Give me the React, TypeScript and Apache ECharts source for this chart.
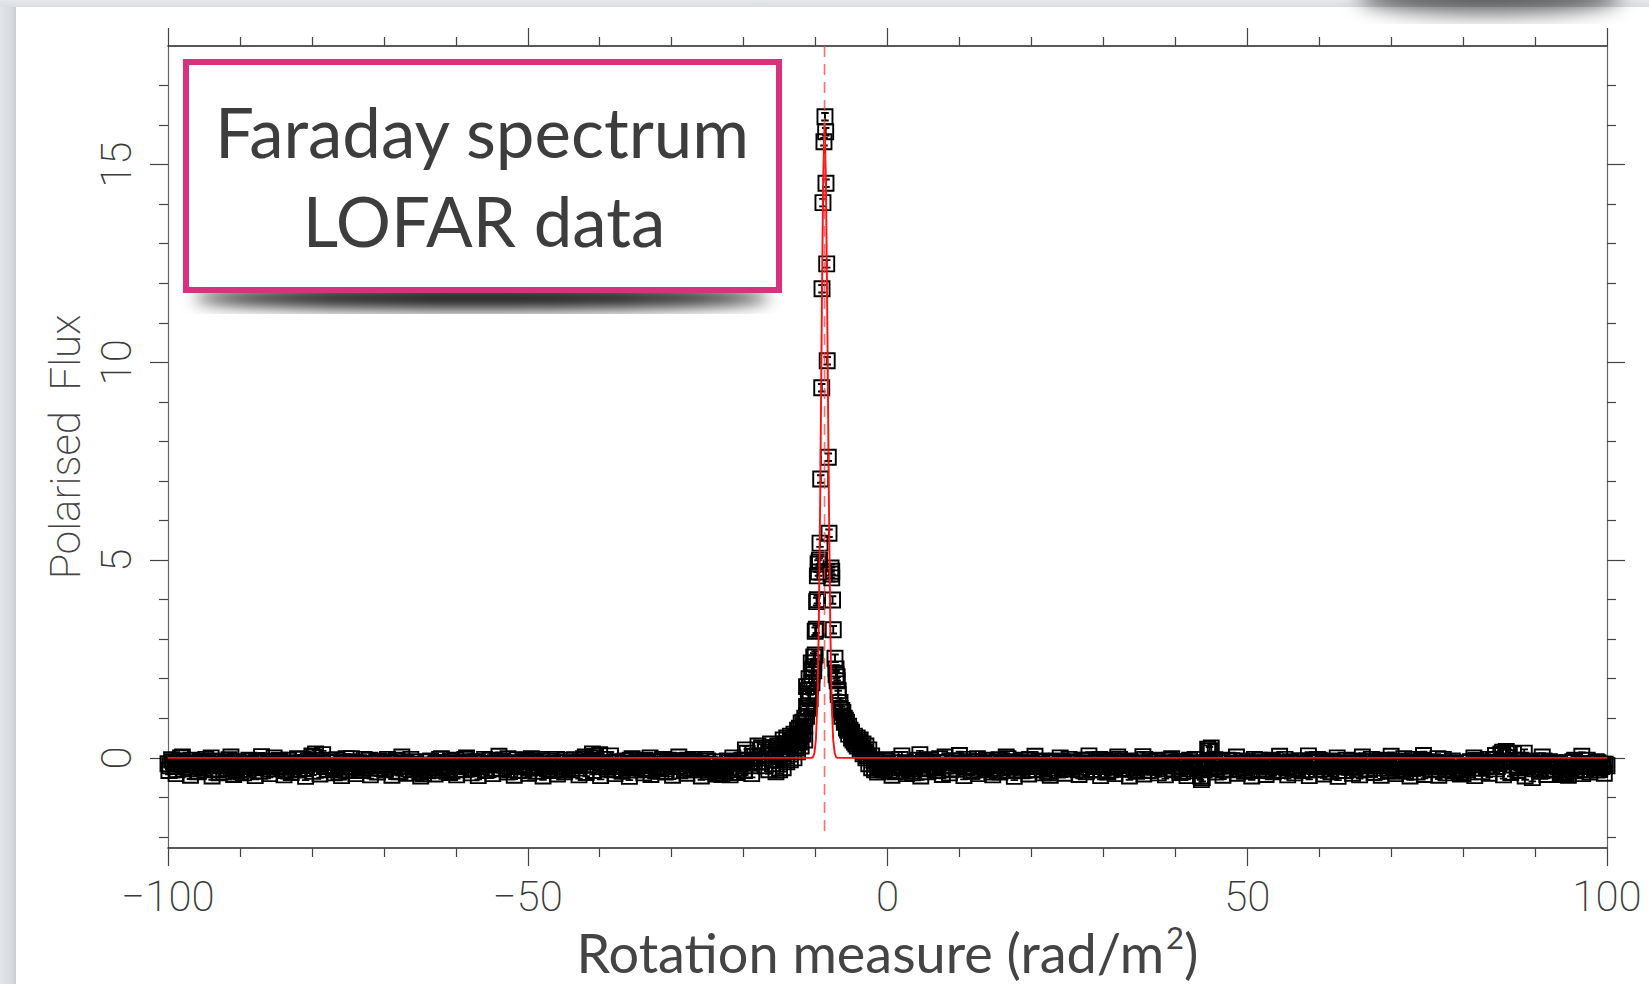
import React, { useEffect, useRef } from 'react';
import * as echarts from 'echarts';

const W = 1649;
const H = 984;

// Axis ticks
const xMin = -100;
const xMax = 100;
const xMajorInterval = 50;
const yMin = -2.28;
const yMax = 18;
const yMajorTicks = [0, 5, 10, 15];
const yMinorTicks = [-2, -1, 1, 2, 3, 4, 6, 7, 8, 9, 11, 12, 13, 14, 16, 17];

// Faraday spectrum samples: baseline parts on regular RM grids
const rmGridStep = 0.5;
const rmGridStepCoarse = 1.0;
const leftBaselineStart = -100;
const leftBaselineFlux = [
  -0.15, -0.05, -0.22, -0.1, 0.02, -0.18, -0.28, -0.12, -0.2, -0.08,
  -0.25, -0.12, 0.0, -0.15, -0.3, -0.1, -0.2, -0.05, -0.18, -0.32,
  -0.22, -0.38, -0.15, -0.08, -0.25, -0.12, 0.03, -0.18, -0.28, -0.1,
  -0.2, -0.06, -0.15, -0.3, -0.12, -0.22, -0.02, -0.16, -0.27, -0.08,
  0.05, 0.1, -0.12, 0.08, -0.2, -0.1, -0.25, -0.05, -0.18, -0.3,
  -0.14, -0.02, -0.22, -0.12, -0.32, -0.18, -0.06, -0.2, -0.1, -0.26,
  -0.16, -0.04, -0.24, -0.12, -0.2, 0.02, -0.15, -0.28, -0.1, -0.22,
  -0.35, -0.4, -0.18, -0.08, -0.25, -0.12, -0.02, -0.2, -0.3, -0.14,
  -0.06, -0.22, -0.12, 0.0, -0.18, -0.28, -0.1, -0.2, -0.04, -0.16,
  -0.26, -0.12, 0.04, -0.08, -0.2, -0.3, -0.14, -0.05, -0.22, -0.1,
  -0.18, -0.02, -0.12, -0.25, -0.08, -0.2, -0.32, -0.14, -0.04, -0.22,
  -0.12, -0.28, -0.16, -0.05, -0.2, -0.1, 0.02, -0.18, 0.1, -0.06,
  0.08, -0.14, -0.24, 0.05, -0.12, -0.2, -0.3, -0.08, -0.16, -0.02,
  -0.22, -0.1, -0.28, -0.14, 0.0, -0.2, -0.08, -0.34, -0.16, -0.06,
  -0.2, -0.12, 0.02, -0.15, -0.26, -0.1, -0.04, -0.22, -0.14, -0.3,
  -0.08, -0.18, -0.1, -0.38, -0.42, -0.22, -0.12, 0.0, -0.16, -0.26,
  -0.06, 0.12, -0.2, -0.1,
];
const leftBaselineStart2 = -99.75;
const leftBaselineFlux2 = [
  -0.2, -0.1, -0.3, 0.0, -0.14, -0.24, -0.06, -0.16, -0.34, -0.12,
  -0.04, -0.2, -0.28, -0.08, -0.18, -0.36, -0.14, 0.02, -0.24, -0.1,
  -0.3, -0.18, -0.06, -0.2, -0.12, -0.34, -0.08, -0.22, -0.16, 0.0,
  -0.1, -0.24, -0.32, -0.06, -0.18, -0.14, -0.28, -0.04, -0.2, -0.12,
  0.02, -0.16, -0.06, -0.22, -0.3, -0.12, -0.2, -0.36, -0.1, -0.02,
  -0.24, -0.1, -0.16, -0.3, -0.04, -0.2, -0.14, -0.26, -0.08, -0.18,
  -0.28, -0.1, -0.18, -0.06, -0.34, -0.14, -0.22, -0.04, -0.16, -0.3,
  -0.2, -0.3, -0.1, -0.24, -0.14, -0.04, -0.2, -0.34, -0.08, -0.18,
  -0.12, -0.3, -0.04, -0.16, -0.26, -0.1, -0.22, -0.14, -0.3, -0.06,
  -0.18, -0.08, -0.28, -0.14, -0.02, -0.22, -0.12, -0.32, -0.16, -0.06,
  -0.26, -0.1, -0.2, -0.04, -0.16, -0.28, -0.08, -0.22, -0.12, -0.3,
  -0.06, -0.2, -0.12, -0.26, -0.14, -0.02, -0.18, -0.1, 0.04, -0.22,
  -0.12, -0.04, -0.18, -0.3, -0.1, -0.22, -0.14, -0.26, -0.06, -0.2,
  -0.14, -0.26, -0.06, -0.18, -0.3, -0.1, -0.22, -0.04, -0.28, -0.12,
  -0.08, -0.22, -0.14, -0.3, -0.06, -0.18, -0.1, -0.26, -0.2, -0.04,
  -0.16, -0.28, -0.34, -0.4, -0.2, -0.08, -0.24, -0.12, -0.3, -0.06,
  0.2, -0.14, 0.04,
];
const leftBaselineStart3 = -99.875;
const leftBaselineFlux3 = [
  -0.32, -0.4, -0.28, -0.44, -0.35, -0.3, -0.46, -0.38, -0.27, -0.42,
  -0.36, -0.3, -0.45, -0.33, -0.4, -0.28, -0.43, -0.37, -0.31, -0.47,
  -0.34, -0.41, -0.29, -0.38, -0.45, -0.32, -0.4, -0.26, -0.43, -0.36,
  -0.3, -0.44, -0.35, -0.39, -0.28, -0.46, -0.33, -0.41, -0.3, -0.37,
  -0.43, -0.29, -0.38, -0.45, -0.32, -0.4, -0.27, -0.36, -0.44, -0.31,
  -0.39, -0.34, -0.46, -0.28, -0.41, -0.35, -0.3, -0.43, -0.37, -0.32,
  -0.45, -0.29, -0.4, -0.34, -0.47, -0.31, -0.38, -0.42, -0.27, -0.36,
  -0.44, -0.33, -0.39, -0.3, -0.46, -0.35, -0.41, -0.28, -0.43, -0.37,
  -0.32, -0.4,
];
const rightBaselineStart = -1.5;
const rightBaselineFlux = [
  -0.1, -0.22, -0.3, -0.15, -0.05, -0.35, -0.2, 0.05, -0.12, -0.28,
  -0.38, -0.15, 0.08, -0.1, -0.25, -0.05, -0.2, -0.32, -0.12, 0.02,
  -0.18, -0.28, -0.08, 0.06, -0.15, -0.22, -0.1, -0.3, -0.02, -0.16,
  -0.25, -0.12, -0.36, -0.2, -0.05, -0.14, 0.02, -0.24, -0.1, -0.3,
  -0.18, -0.06, -0.22, -0.12, 0.04, -0.16, -0.28, -0.1, -0.38, -0.2,
  -0.08, 0.0, -0.14, -0.24, -0.1, -0.18, -0.3, -0.06, -0.16, 0.05,
  -0.12, -0.22, -0.04, -0.18, -0.32, -0.1, -0.2, 0.02, -0.14, -0.26,
  -0.08, -0.16, -0.3, -0.12, 0.03, -0.2, -0.1, -0.24, -0.06, -0.18,
  -0.28, -0.14, -0.02, -0.2, -0.1, -0.34, -0.16, -0.06, -0.22, -0.12,
  -0.46, -0.3, 0.22, 0.25, -0.05, -0.2, -0.12, -0.28, -0.08, -0.18,
  0.02, -0.14, -0.26, -0.1, -0.2, -0.04, -0.16, -0.32, -0.12, -0.22,
  -0.06, -0.18, 0.04, -0.14, -0.26, -0.1, -0.2, -0.3, -0.08, -0.16,
  0.05, -0.12, -0.22, -0.06, -0.18, -0.1, -0.28, -0.14, 0.0, -0.2,
  -0.32, -0.16, -0.08, -0.24, -0.12, 0.02, -0.18, -0.3, -0.1, -0.2,
  -0.06, -0.14, -0.26, 0.04, -0.12, -0.2, -0.08, -0.34, -0.16, -0.04,
  -0.22, -0.1, 0.06, -0.18, -0.28, -0.12, -0.02, -0.2, -0.14, -0.3,
  -0.08, -0.18, -0.36, -0.4, -0.22, -0.1, 0.0, -0.16, -0.26, -0.12,
  -0.04, -0.2, 0.06, -0.12, 0.14, 0.16, -0.1, 0.1, -0.22, -0.06,
  0.12, -0.18, -0.08, -0.28, -0.14, 0.02, -0.2, -0.1, -0.3, -0.16,
  -0.42, -0.38, -0.12, -0.24, -0.06, -0.18, 0.04, -0.3, -0.14, -0.22,
  -0.1, -0.26, -0.16, -0.2,
];
const rightBaselineStart2 = -1.25;
const rightBaselineFlux2 = [
  -0.16, -0.26, -0.08, -0.32, -0.12, -0.2, -0.04, -0.24, -0.16, -0.34,
  -0.22, -0.06, -0.18, -0.28, -0.1, -0.14, -0.26, -0.02, -0.2, -0.12,
  -0.3, -0.08, -0.2, -0.14, -0.24, -0.04, -0.34, -0.16, -0.1, -0.22,
  -0.06, -0.3, -0.18, -0.1, -0.26, -0.14, -0.02, -0.2, -0.32, -0.12,
  -0.24, -0.14, -0.04, -0.3, -0.16, -0.08, -0.22, -0.34, -0.12, -0.26,
  -0.18, -0.1, -0.28, -0.04, -0.2, -0.12, -0.24, -0.16, -0.06, -0.3,
  -0.2, -0.1, -0.3, -0.06, -0.16, -0.24, -0.12, -0.04, -0.28, -0.18,
  -0.1, -0.26, -0.14, -0.2, -0.04, -0.32, -0.16, -0.08, -0.24, -0.12,
  -0.2, -0.06, -0.3, -0.14, -0.22, -0.1, -0.28, -0.18, -0.04, -0.26,
  -0.5, -0.16, 0.18, -0.08, -0.24, -0.12, -0.3, -0.06, -0.2, -0.14,
  -0.24, -0.08, -0.18, -0.3, -0.12, -0.22, -0.06, -0.16, -0.28, -0.1,
  -0.2, -0.32, -0.12, -0.04, -0.22, -0.14, -0.26, -0.08, -0.18, -0.3,
  -0.1, -0.2, -0.04, -0.28, -0.14, -0.22, -0.08, -0.18, -0.32, -0.12,
  -0.06, -0.24, -0.14, -0.2, -0.3, -0.1, -0.16, -0.04, -0.26, -0.12,
  -0.2, -0.08, -0.3, -0.16, -0.1, -0.22, -0.02, -0.28, -0.12, -0.18,
  -0.26, -0.06, -0.14, -0.22, -0.1, -0.3, -0.16, -0.04, -0.24, -0.12,
  -0.16, -0.3, -0.38, -0.2, -0.12, -0.26, -0.06, -0.18, -0.1, -0.22,
  -0.14, -0.04, -0.22, 0.1, -0.08, 0.12, -0.18, -0.06, -0.26, -0.12,
  -0.2, -0.1, -0.24, -0.14, -0.3, -0.08, -0.18, -0.28, -0.12, -0.22,
  -0.36, -0.4, -0.2, -0.1, -0.28, -0.14, -0.22, -0.06, -0.18, -0.26,
  -0.12, -0.22, -0.16,
];
const rightBaselineStart3 = -1.375;
const rightBaselineFlux3 = [
  -0.36, -0.3, -0.44, -0.33, -0.4, -0.28, -0.46, -0.35, -0.31, -0.42,
  -0.38, -0.29, -0.45, -0.34, -0.4, -0.27, -0.43, -0.36, -0.32, -0.47,
  -0.33, -0.41, -0.3, -0.38, -0.44, -0.31, -0.39, -0.28, -0.42, -0.35,
  -0.3, -0.45, -0.36, -0.4, -0.29, -0.46, -0.34, -0.41, -0.31, -0.38,
  -0.43, -0.29, -0.37, -0.45, -0.33, -0.55, -0.28, -0.36, -0.44, -0.3,
  -0.39, -0.34, -0.46, -0.29, -0.42, -0.35, -0.31, -0.43, -0.38, -0.32,
  -0.45, -0.3, -0.41, -0.35, -0.47, -0.32, -0.39, -0.43, -0.28, -0.37,
  -0.44, -0.34, -0.4, -0.31, -0.46, -0.36, -0.42, -0.29, -0.44, -0.38,
  -0.33, -0.41, -0.3, -0.45, -0.35, -0.39, -0.28, -0.43, -0.37, -0.32,
  -0.46, -0.5, -0.34, -0.42, -0.3, -0.38, -0.44, -0.33, -0.4, -0.36,
  -0.31, -0.39,
];

// Peak region samples [RM, flux]
const peakPoints = [
  [-18.0, 0.05], [-18.0, 0.3], [-17.5, -0.1], [-17.5, 0.25],
  [-17.0, 0.2], [-17.0, -0.2], [-16.75, 0.05], [-16.5, 0.15], [-16.5, -0.3],
  [-16.25, 0.35], [-16.0, 0.25], [-16.0, -0.15], [-15.75, -0.05], [-15.5, 0.1], [-15.5, -0.35],
  [-15.25, 0.3], [-15.0, 0.2], [-15.0, -0.3], [-15.0, 0.05], [-14.75, 0.1],
  [-14.5, 0.45], [-14.5, -0.25], [-14.25, 0.35],
  [-14.0, 0.5], [-14.0, 0.2], [-14.0, -0.1], [-13.75, 0.3], [-13.5, 0.55], [-13.5, 0.15], [-13.5, -0.05],
  [-13.25, 0.45], [-13.0, 0.6], [-13.0, 0.3], [-13.0, 0.0], [-12.75, 0.55], [-12.75, 0.25],
  [-12.5, 0.7], [-12.5, 0.45], [-12.5, 0.15], [-12.25, 0.75], [-12.25, 0.4],
  [-12.0, 0.88], [-12.0, 0.6], [-12.0, 0.3], [-11.75, 0.9], [-11.75, 0.6],
  [-11.5, 1.0], [-11.5, 0.8], [-11.5, 0.45],
  [-11.25, 1.8], [-11.25, 1.3], [-11.25, 1.05], [-11.0, 1.7], [-11.0, 1.55], [-11.0, 1.25],
  [-10.9, 2.0], [-10.75, 1.8], [-10.75, 1.5], [-10.6, 2.4], [-10.5, 2.1], [-10.5, 2.25], [-10.5, 1.9],
  [-10.25, 2.4], [-10.25, 2.55], [-10.25, 2.2], [-10.05, 2.6], [-10.05, 3.2],
  [-9.9, 3.25], [-9.85, 3.95], [-9.75, 4.0], [-9.75, 4.6], [-9.65, 4.9], [-9.6, 4.7],
  [-9.5, 4.95], [-9.45, 5.0], [-9.38, 5.43], [-9.28, 7.05], [-9.14, 9.36], [-9.1, 11.86],
  [-8.97, 14.04], [-8.83, 15.58], [-8.69, 16.21], [-8.59, 15.83], [-8.55, 14.53],
  [-8.45, 12.49], [-8.38, 10.04], [-8.23, 7.6], [-8.13, 5.68],
  [-7.85, 4.8], [-7.85, 4.65], [-7.75, 4.72], [-7.75, 4.55],
  [-7.64, 3.99], [-7.54, 3.24], [-7.3, 2.52], [-7.15, 2.25], [-7.15, 2.1],
  [-7.0, 1.95], [-7.0, 2.05], [-6.85, 1.7], [-6.85, 1.6], [-6.6, 1.4], [-6.6, 1.25],
  [-6.35, 1.2], [-6.35, 1.05], [-6.2, 1.15], [-6.0, 1.0], [-6.0, 0.9], [-5.85, 0.95],
  [-5.7, 0.9], [-5.7, 0.75], [-5.55, 0.7], [-5.4, 0.8], [-5.4, 0.6], [-5.2, 0.7],
  [-5.0, 0.65], [-5.0, 0.5], [-4.8, 0.45], [-4.6, 0.55], [-4.6, 0.4], [-4.4, 0.35],
  [-4.2, 0.5], [-4.2, 0.3], [-4.0, 0.4], [-3.8, 0.45], [-3.8, 0.2], [-3.6, 0.25],
  [-3.4, 0.35], [-3.4, 0.1], [-3.2, 0.15], [-3.0, 0.3], [-3.0, 0.0], [-2.8, 0.05],
  [-2.6, 0.2], [-2.6, -0.15], [-2.2, 0.05], [-2.2, -0.25],
  [-1.8, -0.05], [-1.8, -0.3],
];

// Clean model component (red curve)
const modelRM = [
  -100, -10.55, -10.35, -10.15, -9.95, -9.75, -9.55, -9.35, -9.15, -8.95, -8.75,
  -8.55, -8.35, -8.15, -7.95, -7.75, -7.55, -7.35, -7.15, -6.95, 100,
];
const modelFlux = [
  0, 0, 0.02, 0.13, 0.46, 1.36, 3.3, 6.6, 10.8, 14.5, 16.05,
  14.5, 10.8, 6.6, 3.3, 1.36, 0.46, 0.13, 0.02, 0, 0,
];

// Fitted peak position (dashed line)
const fitRM = -8.75;
const fitLineFlux = [18, -2.0];

const tickFont = { fontFamily: 'Roboto', fontWeight: 200, fontSize: 42, color: '#3a3a3a' };

function fmtX(v: number) {
  return v < 0 ? '\u2212' + Math.abs(v) : String(v);
}

export default function App() {
  const ref = useRef<HTMLDivElement>(null);

  useEffect(() => {
    if (!ref.current) return;
    const chart = echarts.init(ref.current, undefined, { renderer: 'svg', width: W, height: H });

    const round = (v: number) => Math.round(v * 1000) / 1000;
    const grid = (start: number, step: number, vals: number[]) =>
      vals.map((f, i) => [round(start + i * step), f]);
    const scatterData = [
      ...grid(leftBaselineStart3, rmGridStepCoarse, leftBaselineFlux3),
      ...grid(rightBaselineStart3, rmGridStepCoarse, rightBaselineFlux3),
      ...grid(leftBaselineStart, rmGridStep, leftBaselineFlux),
      ...grid(leftBaselineStart2, rmGridStep, leftBaselineFlux2),
      ...grid(rightBaselineStart, rmGridStep, rightBaselineFlux),
      ...grid(rightBaselineStart2, rmGridStep, rightBaselineFlux2),
      ...peakPoints,
    ];
    const modelData = modelRM.map((x, i) => [x, modelFlux[i]]);
    const fitData = fitLineFlux.map((f) => [fitRM, f]);

    const tickLine = { color: '#444', width: 1.2 };
    const baseY = {
      type: 'value',
      min: yMin,
      max: yMax,
      splitLine: { show: false },
      gridIndex: 0,
    };

    const option: any = {
      animation: false,
      backgroundColor: '#ffffff',
      grid: {
        left: 168,
        top: 46,
        right: W - 1607,
        bottom: H - 848,
        containLabel: false,
        outerBoundsMode: 'none',
      },
      xAxis: [
        {
          type: 'value',
          position: 'bottom',
          min: xMin,
          max: xMax,
          interval: xMajorInterval,
          axisLine: { show: true, onZero: false, lineStyle: { color: '#222', width: 1.5 } },
          axisTick: { show: true, inside: false, length: 18, lineStyle: tickLine },
          minorTick: { show: true, splitNumber: 5, length: 9, lineStyle: tickLine },
          splitLine: { show: false },
          minorSplitLine: { show: false },
          axisLabel: { ...tickFont, margin: 27, formatter: fmtX },
          name: '{a|Rotation measure (rad/m}{s|2}{a|)}',
          nameLocation: 'middle',
          nameGap: 73,
          nameTextStyle: {
            fontFamily: 'Lato',
            fontSize: 54,
            color: '#444',
            rich: {
              a: { fontFamily: 'Lato', fontSize: 54, color: '#444', lineHeight: 62 },
              s: { fontFamily: 'Lato', fontSize: 31, color: '#444', lineHeight: 30, verticalAlign: 'top', padding: [0, 0, 0, 2] },
            },
          },
        },
        {
          type: 'value',
          position: 'top',
          min: xMin,
          max: xMax,
          interval: xMajorInterval,
          axisLine: { show: true, onZero: false, lineStyle: { color: '#222', width: 1.5 } },
          axisTick: { show: true, inside: false, length: 18, lineStyle: tickLine },
          minorTick: { show: true, splitNumber: 5, length: 9, lineStyle: tickLine },
          splitLine: { show: false },
          minorSplitLine: { show: false },
          axisLabel: { show: false },
        },
      ],
      yAxis: [
        {
          ...baseY,
          position: 'left',
          axisLine: { show: true, onZero: false, lineStyle: { color: '#666', width: 1.2 } },
          axisTick: { show: true, inside: false, length: 18, lineStyle: tickLine, customValues: yMajorTicks },
          axisLabel: { ...tickFont, rotate: 90, margin: 31, customValues: yMajorTicks },
          name: 'Polarised  Flux',
          nameLocation: 'middle',
          nameGap: 82,
          nameRotate: 90,
          nameTextStyle: { fontFamily: 'Roboto', fontWeight: 200, fontSize: 42, color: '#444' },
        },
        {
          ...baseY,
          position: 'left',
          axisLine: { show: false, onZero: false },
          axisTick: { show: true, inside: false, length: 9, lineStyle: tickLine, customValues: yMinorTicks },
          axisLabel: { show: false },
        },
        {
          ...baseY,
          position: 'right',
          axisLine: { show: true, onZero: false, lineStyle: { color: '#666', width: 1.2 } },
          axisTick: { show: true, inside: false, length: 18, lineStyle: tickLine, customValues: yMajorTicks },
          axisLabel: { show: false },
        },
        {
          ...baseY,
          position: 'right',
          axisLine: { show: false, onZero: false },
          axisTick: { show: true, inside: false, length: 9, lineStyle: tickLine, customValues: yMinorTicks },
          axisLabel: { show: false },
        },
      ],
      series: [
        {
          type: 'scatter',
          name: 'Faraday spectrum',
          xAxisIndex: 0,
          yAxisIndex: 0,
          data: scatterData,
          symbol: 'path://M0,0L16,0L16,16L0,16Z M4,4L12,4 M8,4L8,12 M4,12L12,12',
          symbolSize: 15,
          clip: false,
          silent: true,
          itemStyle: { color: 'rgba(0,0,0,0)', borderColor: '#000', borderWidth: 1.9, opacity: 1 },
          z: 2,
        },
        {
          type: 'line',
          name: 'Model',
          xAxisIndex: 0,
          yAxisIndex: 0,
          data: modelData,
          showSymbol: false,
          symbol: 'none',
          clip: false,
          silent: true,
          lineStyle: { color: '#ff1010', width: 1.9 },
          z: 4,
        },
        {
          type: 'line',
          name: 'Peak RM',
          xAxisIndex: 0,
          yAxisIndex: 0,
          data: fitData,
          showSymbol: false,
          symbol: 'none',
          clip: false,
          silent: true,
          lineStyle: { color: 'rgba(255,60,60,0.75)', width: 1.6, type: [11, 7] },
          z: 5,
        },
      ],
      graphic: [
        {
          type: 'rect',
          z: 0,
          silent: true,
          shape: { x: 0, y: 0, width: 16, height: H },
          style: {
            fill: new echarts.graphic.LinearGradient(0, 0, 1, 0, [
              { offset: 0, color: '#e4e6e9' },
              { offset: 0.75, color: '#d6d9dd' },
              { offset: 1, color: '#c9ccd1' },
            ]),
          },
        },
        {
          type: 'rect',
          z: 0,
          silent: true,
          shape: { x: 0, y: 0, width: W, height: 7 },
          style: {
            fill: new echarts.graphic.LinearGradient(0, 0, 0, 1, [
              { offset: 0, color: '#e6e8eb' },
              { offset: 1, color: '#dadde1' },
            ]),
          },
        },
        {
          type: 'ellipse',
          z: 1,
          silent: true,
          shape: { cx: 1490, cy: -30, rx: 132, ry: 18 },
          style: { fill: '#666', shadowBlur: 20, shadowOffsetY: 26, shadowColor: 'rgba(0,0,0,0.6)' },
        },
        {
          type: 'ellipse',
          z: 9,
          silent: true,
          shape: { cx: 482, cy: 281, rx: 288, ry: 11 },
          style: { fill: '#555', shadowBlur: 16, shadowOffsetY: 17, shadowColor: 'rgba(0,0,0,0.95)' },
        },
        {
          type: 'rect',
          z: 10,
          silent: true,
          shape: { x: 186, y: 62, width: 593, height: 228 },
          style: { fill: '#ffffff', stroke: '#d8327f', lineWidth: 6 },
        },
        {
          type: 'text',
          z: 11,
          silent: true,
          x: 482,
          y: 131,
          style: {
            text: 'Faraday spectrum',
            fontFamily: 'Lato',
            fontSize: 69,
            fill: '#3d3d3d',
            align: 'center',
            verticalAlign: 'middle',
          },
        },
        {
          type: 'text',
          z: 11,
          silent: true,
          x: 484,
          y: 220,
          style: {
            text: 'LOFAR data',
            fontFamily: 'Lato',
            fontSize: 69,
            fill: '#3d3d3d',
            align: 'center',
            verticalAlign: 'middle',
          },
        },
      ],
    };

    chart.setOption(option);
    return () => {
      chart.dispose();
    };
  }, []);

  return (
    <div
      ref={ref}
      style={{ position: 'fixed', left: 0, top: 0, width: W, height: H, background: '#fff' }}
    />
  );
}
